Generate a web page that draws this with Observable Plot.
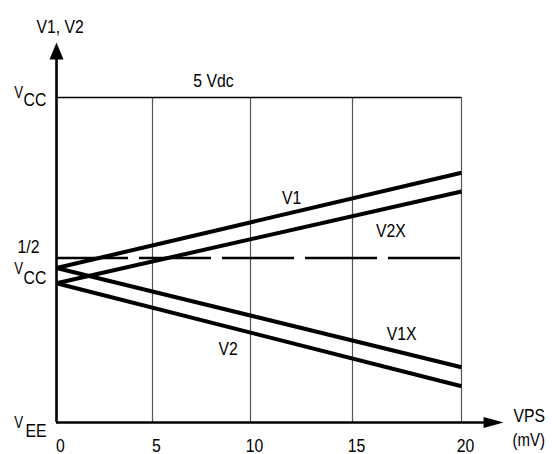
<!DOCTYPE html>
<html><head><meta charset="utf-8">
<script src="https://cdn.jsdelivr.net/npm/d3@7"></script>
<script src="https://cdn.jsdelivr.net/npm/@observablehq/plot@0.6"></script>
<style>
html,body{margin:0;padding:0;background:#fff;}
#chart svg{display:block;}
</style></head><body><div id="chart"></div>
<script>
// ---- data ----
const xTicks = [0, 5, 10, 15, 20];               // VPS (mV)
const xTickLabels = ["0", "5", "10", "15", "20"];
const seriesNames = ["V1", "V2X", "V1X", "V2"];
const seriesStart = [2.377, 2.143, 2.377, 2.143]; // volts at VPS = 0 mV
const seriesEnd = [3.842, 3.554, 0.851, 0.557];   // volts at VPS = 20 mV
const levelValues = [0, 2.53, 5];                  // VEE, 1/2 VCC, VCC (volts)
const levelMain = ["V", "V", "V"];
const levelSub = ["EE", "CC", "CC"];
const levelPrefix = ["", "1/2", ""];
const supplyLabel = "5 Vdc";
const xAxisTitle = ["VPS", "(mV)"];
const yAxisTitle = "V1, V2";
const xAxisEnd = 21.93;
const yAxisEnd = 5.846;

// ---- annotation placement ----
const seriesLabelAt = [[12.02, 3.365], [16.76, 2.851], [17.25, 1.262], [8.86, 1.031]];
const levelOffsets = [ // [prefix dy, main dy, sub dy]
  [0, 5, 14], [-5.5, 15.5, 25.5], [0, 0, 8]
];

const FONT = "'Liberation Sans Narrow','Arial Narrow','Liberation Sans',Arial,sans-serif";

const upArrow = {draw(ctx) { ctx.moveTo(0, 0); ctx.lineTo(7, 17); ctx.lineTo(-7, 17); ctx.closePath(); }};
const rightArrow = {draw(ctx) { ctx.moveTo(0, 0); ctx.lineTo(-20, 5.5); ctx.lineTo(-20, -5.5); ctx.closePath(); }};

const lines = seriesNames.map((name, i) => ({
  name, x1: xTicks[0], x2: xTicks[xTicks.length - 1], y1: seriesStart[i], y2: seriesEnd[i]
}));
const seriesLabels = seriesNames.map((name, i) => ({name, x: seriesLabelAt[i][0], y: seriesLabelAt[i][1]}));
const xMax = xTicks[xTicks.length - 1];
const vcc = levelValues[2];

const levelMarks = [];
levelValues.forEach((v, i) => {
  const [dp, dm, ds] = levelOffsets[i];
  levelMarks.push(Plot.text([v], {x: 0, y: d => d, text: () => levelMain[i], textAnchor: "end", lineAnchor: "bottom", dx: -33.5, dy: dm, fontSize: 16}));
  levelMarks.push(Plot.text([v], {x: 0, y: d => d, text: () => levelSub[i], textAnchor: "start", lineAnchor: "bottom", dx: i === 0 ? -31 : -33, dy: ds, fontSize: 19}));
  if (levelPrefix[i]) levelMarks.push(Plot.text([v], {x: 0, y: d => d, text: () => levelPrefix[i], textAnchor: "middle", lineAnchor: "bottom", dx: -28, dy: dp, fontSize: 19}));
});

const chart = Plot.plot({
  width: 552,
  height: 454,
  margin: 0,
  style: {fontFamily: FONT, fontSize: "19px", color: "black", background: "white", overflow: "visible"},
  x: {type: "linear", domain: xTicks, range: [56, 152, 250, 352, 461], axis: null},
  y: {type: "linear", domain: [0, 5], range: [422, 97], axis: null},
  marks: [
    Plot.ruleX(xTicks.slice(1), {y1: 0, y2: vcc, stroke: "#555", strokeWidth: 1.2}),
    Plot.ruleY([vcc], {x1: 0, x2: xMax, stroke: "black", strokeWidth: 1.6}),
    Plot.ruleY([levelValues[1]], {x1: 0, x2: xMax, stroke: "black", strokeWidth: 2.5, strokeDasharray: "72,11"}),
    Plot.link(lines, {x1: "x1", y1: "y1", x2: "x2", y2: "y2", stroke: "black", strokeWidth: 4}),
    Plot.ruleX([0], {y1: 0, y2: yAxisEnd - 0.1, stroke: "black", strokeWidth: 2.6}),
    Plot.ruleY([0], {x1: 0, x2: xAxisEnd - 0.3, stroke: "black", strokeWidth: 2.6}),
    Plot.dot([0], {x: 0, y: () => yAxisEnd, symbol: upArrow, fill: "black", r: 5}),
    Plot.dot([0], {x: () => xAxisEnd, y: 0, symbol: rightArrow, fill: "black", r: 5}),
    Plot.text(xTicks, {x: d => d, y: 0, text: (d, i) => xTickLabels[i], textAnchor: "middle", lineAnchor: "bottom", dx: 4, dy: 29, fontSize: 19}),
    Plot.text(seriesLabels, {x: "x", y: "y", text: "name", textAnchor: "middle", lineAnchor: "bottom", fontSize: 19}),
    Plot.text([supplyLabel], {x: 7.08, y: vcc, text: d => d, textAnchor: "start", lineAnchor: "bottom", dy: -11, fontSize: 19}),
    Plot.text([yAxisTitle], {x: 0, y: yAxisEnd, text: d => d, textAnchor: "start", lineAnchor: "bottom", dx: -20, dy: -10, fontSize: 19}),
    Plot.text([xAxisTitle[0]], {x: xAxisEnd, y: 0, text: d => d, textAnchor: "start", lineAnchor: "bottom", dx: 10, dy: -1, fontSize: 19}),
    Plot.text([xAxisTitle[1]], {x: xAxisEnd, y: 0, text: d => d, textAnchor: "start", lineAnchor: "bottom", dx: 9, dy: 23, fontSize: 18}),
    ...levelMarks
  ]
});
document.getElementById("chart").appendChild(chart);

// condense glyphs horizontally to mimic the narrow sans face of the original
d3.select(chart).selectAll("text").each(function () {
  const w = this.getComputedTextLength();
  if (w > 0) {
    this.setAttribute("textLength", (w * 0.83).toFixed(2));
    this.setAttribute("lengthAdjust", "spacingAndGlyphs");
  }
});
</script>
</body></html>
